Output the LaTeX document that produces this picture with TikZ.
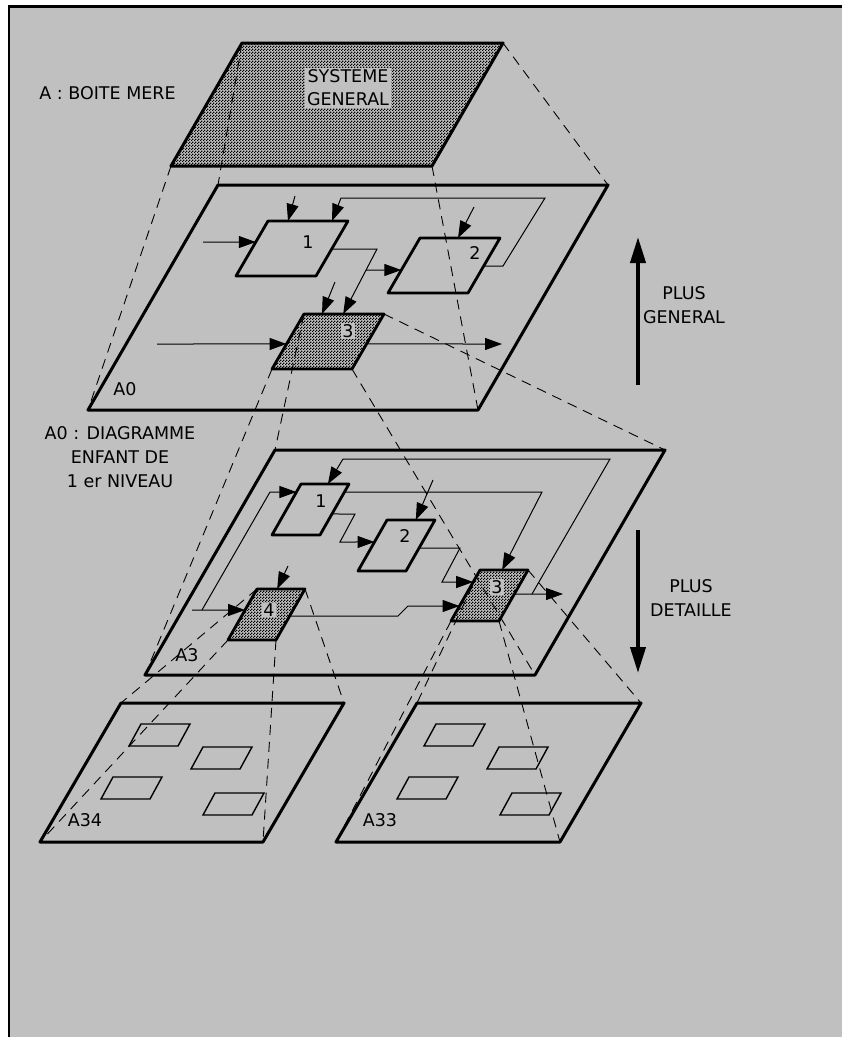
\documentclass[tikz,border=0pt]{standalone}
\usepackage{fontspec}
\setmainfont{DejaVu Sans}
\usetikzlibrary{arrows.meta,patterns,calc}
\definecolor{bg}{RGB}{192,192,192}
\pgfdeclarepatternformonly{stip}{\pgfqpoint{0pt}{0pt}}{\pgfqpoint{2.7pt}{2.7pt}}{\pgfqpoint{2.7pt}{2.7pt}}{%
  \pgfpathrectangle{\pgfqpoint{0pt}{0pt}}{\pgfqpoint{1.2pt}{1.2pt}}%
  \pgfpathrectangle{\pgfqpoint{1.35pt}{1.35pt}}{\pgfqpoint{1.2pt}{1.2pt}}%
  \pgfusepath{fill}}
% name, bl-x, bl-y, width, height, shift
\newcommand\mkpara[6]{%
  \coordinate (#1-bl) at (#2,#3);
  \coordinate (#1-br) at ({#2+#4},#3);
  \coordinate (#1-tr) at ({#2+#4+#6},{#3-#5});
  \coordinate (#1-tl) at ({#2+#6},{#3-#5});
}
\begin{document}
\begin{tikzpicture}[x=1pt,y=-1pt,
  every node/.style={font=\fontsize{17.5}{24}\selectfont, inner sep=0pt},
  plane/.style={line width=3pt, line join=round},
  boxe/.style={line width=2.8pt, line join=round},
  mini/.style={line width=1.4pt},
  proj/.style={line width=0.9pt, dash pattern=on 10pt off 7pt},
  flow/.style={line width=1pt},
  arr/.style={flow, -{Triangle[length=17pt,width=12pt]}},
  big/.style={line width=4pt, -{Triangle[length=26pt,width=15pt]}},
  shade/.style={pattern=stip, pattern color=black},
  numb/.style={fill=bg, inner sep=1pt}]
\useasboundingbox (0,0) rectangle (842,1037);
\fill[white] (0,0) rectangle (842,1037);
\fill[bg] (8,6) rectangle (842,1037);
\draw[line width=2.5pt] (842,6.5) -- (9,6.5) -- (9,1037);

% planes
\mkpara{A}{171}{166}{261}{123}{71}
\mkpara{Z}{88}{410}{390}{225}{130}
\mkpara{T}{145}{675}{390}{225}{130}
\mkpara{F}{40}{842}{223}{139}{81}
\mkpara{G}{336}{842}{224}{139}{81}
% A0 boxes
\mkpara{Z1}{236}{276}{80}{55}{32}
\mkpara{Z2}{388}{293}{80}{55}{32}
\mkpara{Z3}{272}{369}{80}{55}{32}
% A3 boxes
\mkpara{T1}{272}{535}{48}{51}{29}
\mkpara{T2}{358}{571}{48}{51}{29}
\mkpara{T4}{228}{640}{48}{51}{29}
\mkpara{T3}{451}{621}{48}{51}{29}
% mini boxes
\mkpara{Fa}{129}{746}{49}{22}{12}
\mkpara{Fb}{191}{769}{49}{22}{12}
\mkpara{Fc}{101}{799}{49}{22}{12}
\mkpara{Fd}{203}{815}{49}{22}{12}
\mkpara{Ga}{424}{746}{49}{22}{12}
\mkpara{Gb}{487}{769}{49}{22}{12}
\mkpara{Gc}{397}{799}{49}{22}{12}
\mkpara{Gd}{500}{815}{49}{22}{12}

% shaded fills
\fill[shade] (A-bl) -- (A-br) -- (A-tr) -- (A-tl) -- cycle;
\foreach \b in {Z3,T4,T3}{\fill[shade] (\b-bl) -- (\b-br) -- (\b-tr) -- (\b-tl) -- cycle;}

% plane outlines
\foreach \p in {A,Z,T,F,G}{\draw[plane] (\p-bl) -- (\p-br) -- (\p-tr) -- (\p-tl) -- cycle;}
\foreach \b in {Z1,Z2,Z3,T1,T2,T4,T3}{\draw[boxe] (\b-bl) -- (\b-br) -- (\b-tr) -- (\b-tl) -- cycle;}
\foreach \b in {Fa,Fb,Fc,Fd,Ga,Gb,Gc,Gd}{\draw[mini] (\b-bl) -- (\b-br) -- (\b-tr) -- (\b-tl) -- cycle;}

% ---------- A0 flows ----------
\coordinate (z1in) at (203,242);
\coordinate (z1i) at ($(Z1-bl)!0.618!(Z1-tl)$);
\draw[arr] (z1in) -- (z1i);
\coordinate (z1ca) at (295,196);
\coordinate (z1c) at ($(Z1-tl)!0.25!(Z1-tr)$);
\draw[arr] (z1ca) -- (z1c);
\coordinate (z2o) at ($(Z2-br)!0.49!(Z2-tr)$);
\coordinate (zf1) at (503,266);
\coordinate (zf2) at (545,198);
\coordinate (zf3) at (341,198);
\coordinate (z1cb) at ($(Z1-tl)!0.8!(Z1-tr)$);
\draw[arr] (z2o) -- (zf1) -- (zf2) -- (zf3) -- (z1cb);
\coordinate (z2ca) at (474,207);
\coordinate (z2c) at ($(Z2-tl)!0.475!(Z2-tr)$);
\draw[arr] (z2ca) -- (z2c);
\coordinate (z1o) at ($(Z1-br)!0.49!(Z1-tr)$);
\coordinate (zo1) at (377,249);
\coordinate (z3cb) at ($(Z3-tl)!0.49!(Z3-tr)$);
\draw[arr] (z1o) -- (zo1) -- (z3cb);
\coordinate (zbr) at (366,270);
\coordinate (z2i) at ($(Z2-bl)!0.418!(Z2-tl)$);
\draw[arr] (zbr) -- (z2i);
\coordinate (z3ca) at (335,282);
\coordinate (z3c) at ($(Z3-tl)!0.225!(Z3-tr)$);
\draw[arr] (z3ca) -- (z3c);
\coordinate (z3in) at (157,344);
\coordinate (z3i) at ($(Z3-bl)!0.455!(Z3-tl)$);
\draw[arr] (z3in) -- (z3i);
\coordinate (z3o) at ($(Z3-br)!0.455!(Z3-tr)$);
\coordinate (z3out) at (502,344);
\draw[arr] (z3o) -- (z3out);

% ---------- A3 flows ----------
\coordinate (tin) at (192,610);
\coordinate (t4i) at ($(T4-bl)!0.588!(T4-tl)$);
\draw[arr] (tin) -- (t4i);
\coordinate (tb1) at (202,610);
\coordinate (tb2) at (270,492);
\coordinate (t1i) at ($(T1-bl)!0.843!(T1-tl)$);
\draw[arr] (tb1) -- (tb2) -- (t1i);
\coordinate (t3o) at ($(T3-br)!0.529!(T3-tr)$);
\coordinate (tout) at (563,594);
\draw[arr] (t3o) -- (tout);
\coordinate (tf0) at (532,594);
\coordinate (tf1) at (610,459);
\coordinate (tf2) at (343,459);
\coordinate (t1c) at ($(T1-tl)!0.56!(T1-tr)$);
\draw[arr] (tf0) -- (tf1) -- (tf2) -- (t1c);
\coordinate (t1oa) at ($(T1-br)!0.843!(T1-tr)$);
\coordinate (tu1) at (542,492);
\coordinate (t3c) at ($(T3-tl)!0.46!(T3-tr)$);
\draw[arr] (t1oa) -- (tu1) -- (t3c);
\coordinate (t1ob) at ($(T1-br)!0.412!(T1-tr)$);
\coordinate (tv1) at (355,514);
\coordinate (tv2) at (340,542);
\coordinate (t2i) at ($(T2-bl)!0.569!(T2-tl)$);
\draw[arr] (t1ob) -- (tv1) -- (tv2) -- (t2i);
\coordinate (t2ca) at (433,480);
\coordinate (t2c) at ($(T2-tl)!0.6!(T2-tr)$);
\draw[arr] (t2ca) -- (t2c);
\coordinate (t2o) at ($(T2-br)!0.451!(T2-tr)$);
\coordinate (tw1) at (460,548);
\coordinate (tw2) at (442,582);
\coordinate (t3ia) at ($(T3-bl)!0.765!(T3-tl)$);
\draw[arr] (t2o) -- (tw1) -- (tw2) -- (t3ia);
\coordinate (t4ca) at (288,566);
\coordinate (t4c) at ($(T4-tl)!0.42!(T4-tr)$);
\draw[arr] (t4ca) -- (t4c);
\coordinate (t4o) at ($(T4-br)!0.47!(T4-tr)$);
\coordinate (tx1) at (398,616);
\coordinate (tx2) at (408,606);
\coordinate (t3ib) at ($(T3-bl)!0.294!(T3-tl)$);
\draw[arr] (t4o) -- (tx1) -- (tx2) -- (t3ib);

% ---------- projection lines ----------
\foreach \c in {tl,bl,br,tr}{
  \draw[proj] (A-\c) -- (Z-\c);
  \draw[proj] (Z3-\c) -- (T-\c);
  \draw[proj] (T4-\c) -- (F-\c);
  \draw[proj] (T3-\c) -- (G-\c);
}

% ---------- level arrows ----------
\coordinate (ug1) at (638,385);
\coordinate (ug2) at (638,237);
\draw[big] (ug1) -- (ug2);
\coordinate (ud1) at (638,530);
\coordinate (ud2) at (638,673);
\draw[big] (ud1) -- (ud2);

% ---------- texts ----------
\node (tA) at (107.5,93) {A : BOITE MERE};
\node[fill=bg, inner sep=2pt, align=center, font=\fontsize{17.5}{23}\selectfont] (tSys) at (348,88) {SYSTEME\\GENERAL};
\node (tA0) at (125,389) {A0};
\node (tA3) at (187,655) {A3};
\node (tA34) at (85,820) {A34};
\node (tA33) at (380,820) {A33};
\node (nz1) at (308,242) {1};
\node (nz2) at (475,253) {2};
\node[numb] (nz3) at (348,331) {3};
\node (nt1) at (321,501) {1};
\node (nt2) at (405,536) {2};
\node[numb] (nt4) at (269,610) {4};
\node[numb] (nt3) at (497,587) {3};
\node[align=center] (tGen) at (684,305) {PLUS\\GENERAL};
\node[align=center] (tDet) at (691,598) {PLUS\\DETAILLE};
\node[align=center] (tDia) at (120,457) {A0 : DIAGRAMME\\ENFANT DE\\1 er NIVEAU};
\end{tikzpicture}
\end{document}
